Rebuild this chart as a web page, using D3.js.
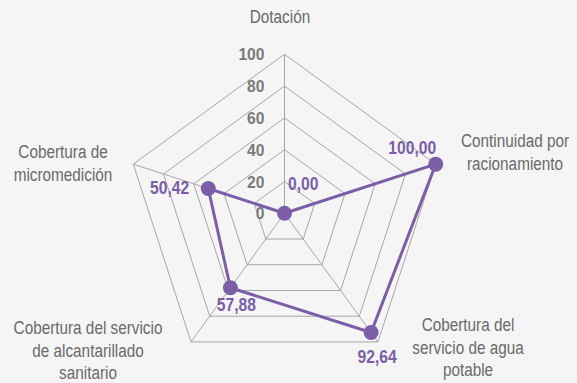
<!DOCTYPE html>
<html><head><meta charset="utf-8">
<script src="https://cdn.jsdelivr.net/npm/d3@7"></script>
<style>
html,body{margin:0;padding:0;background:#f5f5f5;}
svg{display:block;font-family:"Liberation Sans","Arial",sans-serif;}
</style></head><body>
<svg id="chart" width="577" height="383"></svg>
<script>
const categories = [
  ["Dotación"],
  ["Continuidad por", "racionamiento"],
  ["Cobertura del", "servicio de agua", "potable"],
  ["Cobertura del servicio", "de alcantarillado", "sanitario"],
  ["Cobertura de", "micromedición"]
];
const values = [0.00, 100.00, 92.64, 57.88, 50.42];
const valueLabels = ["0,00", "100,00", "92,64", "57,88", "50,42"];
const ticks = [0, 20, 40, 60, 80, 100];

const svg = d3.select("#chart");
const cx = 284.5, cy = 213.3, R = 159;
const r = d3.scaleLinear().domain([0, 100]).range([0, R]);
const n = categories.length;
const ang = i => -Math.PI / 2 + i * 2 * Math.PI / n;
const pt = (i, v) => [cx + r(v) * Math.cos(ang(i)), cy + r(v) * Math.sin(ang(i))];

const grid = svg.append("g");
ticks.filter(t => t > 0).forEach(t => {
  grid.append("path")
    .attr("d", d3.line()(d3.range(n).map(i => pt(i, t))) + "Z")
    .attr("fill", "none").attr("stroke", "#a6a6a6").attr("stroke-width", 1);
});
d3.range(n).forEach(i => {
  const [x, y] = pt(i, 100);
  grid.append("line").attr("x1", cx).attr("y1", cy).attr("x2", x).attr("y2", y)
    .attr("stroke", "#a6a6a6").attr("stroke-width", 1);
});

// condensed text helper
const cond = (x, y, s) => `translate(${x},${y}) scale(${s},1)`;

// tick labels
svg.append("g").selectAll("text").data(ticks).join("text")
  .attr("transform", d => cond(cx - 20, cy - r(d), 0.92))
  .attr("dy", "0.36em").attr("text-anchor", "end")
  .attr("font-size", 17).attr("font-weight", "bold").attr("fill", "#7a7a7a")
  .text(d => d);

// series
const purple = "#7b5ea7";
svg.append("path")
  .attr("d", d3.line()(values.map((v, i) => pt(i, v))) + "Z")
  .attr("fill", "none").attr("stroke", purple).attr("stroke-width", 3)
  .attr("stroke-linejoin", "round");
svg.append("g").selectAll("circle").data(values).join("circle")
  .attr("cx", (v, i) => pt(i, v)[0]).attr("cy", (v, i) => pt(i, v)[1])
  .attr("r", 7.5).attr("fill", purple);

// value label placement: [dx, dy, anchor]
const labelPlace = [[3.5, -30, "start"], [0.5, -17, "end"], [6, 24, "middle"], [6, 17, "middle"], [-19, -1.5, "end"]];
svg.append("g").selectAll("text").data(values).join("text")
  .attr("transform", (v, i) => {
    const [x, y] = pt(i, v);
    return cond(x + labelPlace[i][0], y + labelPlace[i][1], 0.87);
  })
  .attr("text-anchor", (v, i) => labelPlace[i][2])
  .attr("dy", "0.36em")
  .attr("font-size", 18).attr("font-weight", "bold").attr("fill", purple)
  .text((v, i) => valueLabels[i]);

// category labels
const catPos = [[280, 17], [515, 141], [468, 325], [88, 328], [63, 152]];
const cat = svg.append("g");
categories.forEach((lines, i) => {
  const t = cat.append("text")
    .attr("transform", cond(catPos[i][0], catPos[i][1], 0.87))
    .attr("text-anchor", "middle").attr("font-size", 17.6).attr("fill", "#6a6a6a");
  lines.forEach((l, j) => {
    t.append("tspan").attr("x", 0).attr("dy", j === 0 ? "0.36em" : 22.5).text(l);
  });
});
</script>
</body></html>
